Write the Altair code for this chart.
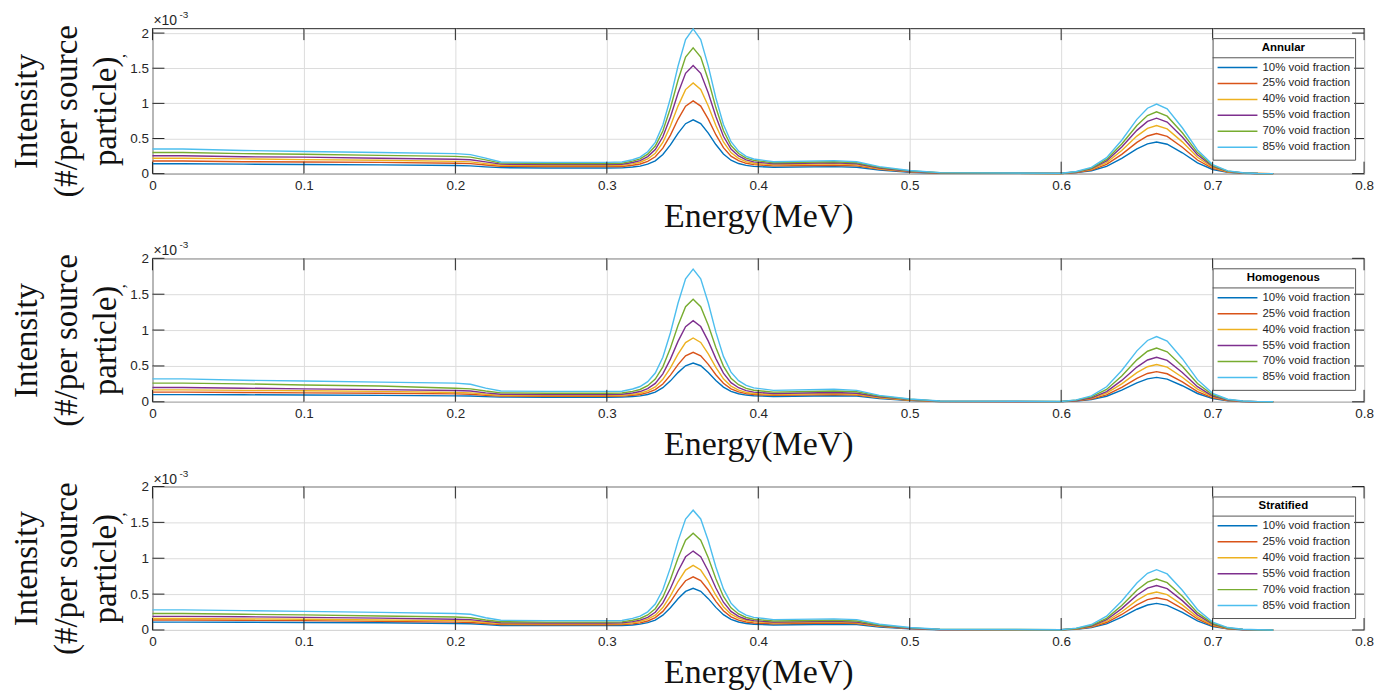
import altair as alt
import pandas as pd

energy = [0, 0.02, 0.06, 0.1, 0.15, 0.2, 0.21, 0.22, 0.23, 0.26, 0.3, 0.31,
          0.317, 0.322, 0.327, 0.332, 0.337, 0.342, 0.347, 0.352, 0.357, 0.362, 0.367,
          0.372, 0.377, 0.382, 0.387, 0.392, 0.397,
          0.41, 0.45, 0.465, 0.48, 0.5, 0.52,
          0.6, 0.61, 0.62, 0.63, 0.64, 0.65, 0.657, 0.663, 0.67, 0.68, 0.69, 0.7,
          0.71, 0.72, 0.73, 0.74]

series_names = ["10% void fraction", "25% void fraction", "40% void fraction",
                "55% void fraction", "70% void fraction", "85% void fraction"]
colors = ["#0072BD", "#D95319", "#EDB120", "#7E2F8E", "#77AC30", "#4DBEEE"]
x_ticks = [0, 0.1, 0.2, 0.3, 0.4, 0.5, 0.6, 0.7, 0.8]
y_ticks = [0, 0.5, 1, 1.5, 2]

# Annular (values in units of 1e-3)
annular_10 = [0.14, 0.14, 0.135, 0.13, 0.125, 0.115, 0.11, 0.097, 0.085, 0.08, 0.08, 0.082,
              0.094, 0.107, 0.135, 0.183, 0.272, 0.409, 0.574, 0.711, 0.766, 0.712, 0.577, 0.414, 0.279, 0.191, 0.144, 0.117, 0.104,
              0.09, 0.10, 0.09, 0.05, 0.02, 0.005,
              0.002, 0.014, 0.041, 0.104, 0.216, 0.351, 0.423, 0.45, 0.419, 0.297, 0.153, 0.059, 0.018, 0.005, 0.001, 0]
annular_25 = [0.18, 0.18, 0.17, 0.165, 0.16, 0.148, 0.142, 0.122, 0.105, 0.10, 0.10, 0.102,
              0.119, 0.137, 0.175, 0.240, 0.362, 0.549, 0.773, 0.960, 1.035, 0.961, 0.776, 0.554, 0.369, 0.249, 0.184, 0.147, 0.129,
              0.11, 0.12, 0.11, 0.06, 0.025, 0.006,
              0.003, 0.017, 0.051, 0.131, 0.274, 0.445, 0.536, 0.57, 0.530, 0.376, 0.194, 0.074, 0.023, 0.007, 0.002, 0]
annular_40 = [0.22, 0.22, 0.21, 0.20, 0.19, 0.175, 0.168, 0.142, 0.12, 0.115, 0.115, 0.117,
              0.139, 0.162, 0.209, 0.291, 0.444, 0.679, 0.961, 1.196, 1.29, 1.197, 0.964, 0.684, 0.451, 0.300, 0.218, 0.172, 0.148,
              0.125, 0.14, 0.125, 0.07, 0.03, 0.008,
              0.003, 0.021, 0.062, 0.158, 0.329, 0.534, 0.644, 0.685, 0.637, 0.452, 0.233, 0.089, 0.027, 0.008, 0.002, 0]
annular_55 = [0.255, 0.255, 0.24, 0.235, 0.22, 0.205, 0.198, 0.168, 0.135, 0.13, 0.13, 0.133,
              0.158, 0.186, 0.243, 0.342, 0.525, 0.807, 1.145, 1.427, 1.54, 1.428, 1.148, 0.812, 0.532, 0.350, 0.252, 0.196, 0.168,
              0.14, 0.155, 0.14, 0.08, 0.035, 0.01,
              0.004, 0.024, 0.071, 0.182, 0.379, 0.616, 0.743, 0.79, 0.735, 0.521, 0.269, 0.103, 0.032, 0.009, 0.002, 0]
annular_70 = [0.30, 0.30, 0.285, 0.275, 0.26, 0.245, 0.235, 0.195, 0.15, 0.145, 0.145, 0.148,
              0.178, 0.211, 0.277, 0.392, 0.606, 0.935, 1.329, 1.658, 1.79, 1.659, 1.332, 0.940, 0.613, 0.400, 0.286, 0.220, 0.188,
              0.155, 0.17, 0.155, 0.09, 0.04, 0.012,
              0.004, 0.026, 0.079, 0.202, 0.422, 0.686, 0.827, 0.88, 0.818, 0.581, 0.299, 0.114, 0.035, 0.011, 0.003, 0]
annular_85 = [0.35, 0.35, 0.33, 0.315, 0.30, 0.285, 0.27, 0.22, 0.165, 0.16, 0.16, 0.165,
              0.198, 0.236, 0.312, 0.445, 0.692, 1.072, 1.528, 1.908, 2.06, 1.909, 1.531, 1.077, 0.699, 0.454, 0.321, 0.246, 0.208,
              0.17, 0.185, 0.17, 0.10, 0.045, 0.014,
              0.005, 0.030, 0.089, 0.228, 0.475, 0.772, 0.931, 0.99, 0.921, 0.653, 0.337, 0.129, 0.040, 0.012, 0.003, 0]

# Homogenous
homog_10 = [0.10, 0.10, 0.098, 0.095, 0.09, 0.083, 0.08, 0.072, 0.065, 0.064, 0.064, 0.065,
            0.074, 0.083, 0.102, 0.135, 0.197, 0.292, 0.407, 0.502, 0.54, 0.503, 0.410, 0.298, 0.205, 0.145, 0.112, 0.094, 0.084,
            0.075, 0.085, 0.08, 0.045, 0.018, 0.004,
            0.002, 0.010, 0.031, 0.078, 0.163, 0.265, 0.320, 0.34, 0.316, 0.224, 0.116, 0.044, 0.014, 0.004, 0.001, 0]
homog_25 = [0.135, 0.135, 0.13, 0.125, 0.12, 0.11, 0.105, 0.09, 0.08, 0.078, 0.078, 0.08,
            0.090, 0.102, 0.127, 0.170, 0.249, 0.372, 0.519, 0.641, 0.69, 0.642, 0.522, 0.378, 0.258, 0.180, 0.138, 0.114, 0.102,
            0.09, 0.10, 0.095, 0.055, 0.022, 0.005,
            0.002, 0.013, 0.038, 0.097, 0.202, 0.328, 0.395, 0.42, 0.391, 0.277, 0.143, 0.055, 0.017, 0.005, 0.001, 0]
homog_40 = [0.167, 0.167, 0.16, 0.155, 0.145, 0.13, 0.125, 0.105, 0.09, 0.088, 0.088, 0.09,
            0.104, 0.120, 0.152, 0.208, 0.313, 0.473, 0.665, 0.826, 0.89, 0.827, 0.669, 0.479, 0.321, 0.219, 0.163, 0.132, 0.116,
            0.10, 0.115, 0.105, 0.06, 0.025, 0.007,
            0.003, 0.016, 0.047, 0.120, 0.250, 0.406, 0.489, 0.52, 0.484, 0.343, 0.177, 0.068, 0.021, 0.006, 0.002, 0]
homog_55 = [0.20, 0.20, 0.19, 0.18, 0.17, 0.157, 0.15, 0.125, 0.105, 0.102, 0.102, 0.105,
            0.123, 0.143, 0.184, 0.256, 0.390, 0.595, 0.842, 1.048, 1.13, 1.049, 0.846, 0.602, 0.399, 0.267, 0.196, 0.156, 0.135,
            0.115, 0.13, 0.12, 0.07, 0.03, 0.008,
            0.003, 0.019, 0.056, 0.143, 0.298, 0.484, 0.583, 0.62, 0.577, 0.409, 0.211, 0.081, 0.025, 0.007, 0.002, 0]
homog_70 = [0.26, 0.26, 0.25, 0.235, 0.22, 0.19, 0.18, 0.15, 0.125, 0.12, 0.12, 0.123,
            0.146, 0.172, 0.225, 0.317, 0.487, 0.749, 1.063, 1.325, 1.43, 1.326, 1.067, 0.757, 0.498, 0.329, 0.239, 0.187, 0.161,
            0.135, 0.15, 0.14, 0.08, 0.035, 0.01,
            0.004, 0.023, 0.068, 0.173, 0.360, 0.585, 0.705, 0.75, 0.698, 0.495, 0.255, 0.098, 0.030, 0.009, 0.002, 0]
homog_85 = [0.32, 0.32, 0.30, 0.29, 0.275, 0.26, 0.245, 0.19, 0.15, 0.145, 0.145, 0.148,
            0.179, 0.213, 0.281, 0.401, 0.622, 0.963, 1.373, 1.714, 1.85, 1.715, 1.377, 0.971, 0.633, 0.414, 0.295, 0.228, 0.194,
            0.16, 0.175, 0.16, 0.09, 0.04, 0.012,
            0.005, 0.027, 0.082, 0.209, 0.437, 0.710, 0.855, 0.91, 0.846, 0.601, 0.309, 0.118, 0.036, 0.011, 0.003, 0]

# Stratified
strat_10 = [0.11, 0.11, 0.108, 0.105, 0.10, 0.09, 0.087, 0.075, 0.062, 0.06, 0.06, 0.061,
            0.070, 0.081, 0.102, 0.138, 0.206, 0.310, 0.434, 0.538, 0.58, 0.539, 0.437, 0.315, 0.213, 0.147, 0.111, 0.090, 0.080,
            0.07, 0.08, 0.075, 0.04, 0.015, 0.004,
            0.002, 0.011, 0.033, 0.085, 0.178, 0.289, 0.348, 0.37, 0.344, 0.244, 0.126, 0.048, 0.015, 0.004, 0.001, 0]
strat_25 = [0.14, 0.14, 0.135, 0.13, 0.12, 0.11, 0.105, 0.09, 0.075, 0.072, 0.072, 0.074,
            0.085, 0.099, 0.125, 0.172, 0.259, 0.393, 0.553, 0.687, 0.74, 0.688, 0.557, 0.399, 0.268, 0.183, 0.137, 0.111, 0.098,
            0.085, 0.095, 0.09, 0.05, 0.02, 0.005,
            0.002, 0.014, 0.041, 0.104, 0.216, 0.351, 0.423, 0.45, 0.419, 0.297, 0.153, 0.059, 0.018, 0.005, 0.001, 0]
strat_40 = [0.16, 0.16, 0.155, 0.15, 0.14, 0.13, 0.125, 0.105, 0.088, 0.085, 0.085, 0.087,
            0.101, 0.118, 0.150, 0.207, 0.313, 0.476, 0.672, 0.835, 0.90, 0.836, 0.676, 0.484, 0.324, 0.220, 0.164, 0.132, 0.116,
            0.10, 0.11, 0.10, 0.055, 0.022, 0.006,
            0.003, 0.016, 0.048, 0.122, 0.254, 0.413, 0.498, 0.53, 0.493, 0.350, 0.180, 0.069, 0.021, 0.006, 0.002, 0]
strat_55 = [0.19, 0.19, 0.185, 0.175, 0.165, 0.15, 0.145, 0.12, 0.10, 0.097, 0.097, 0.10,
            0.117, 0.137, 0.177, 0.247, 0.378, 0.578, 0.819, 1.020, 1.10, 1.021, 0.823, 0.585, 0.387, 0.259, 0.189, 0.150, 0.130,
            0.11, 0.12, 0.11, 0.06, 0.025, 0.007,
            0.003, 0.019, 0.056, 0.143, 0.298, 0.484, 0.583, 0.62, 0.577, 0.409, 0.211, 0.081, 0.025, 0.007, 0.002, 0]
strat_70 = [0.23, 0.23, 0.22, 0.21, 0.195, 0.18, 0.17, 0.14, 0.115, 0.11, 0.11, 0.113,
            0.135, 0.160, 0.209, 0.296, 0.457, 0.705, 1.003, 1.251, 1.35, 1.252, 1.007, 0.713, 0.468, 0.309, 0.223, 0.174, 0.150,
            0.125, 0.135, 0.125, 0.07, 0.03, 0.009,
            0.004, 0.021, 0.064, 0.163, 0.341, 0.554, 0.667, 0.71, 0.660, 0.469, 0.241, 0.092, 0.028, 0.009, 0.002, 0]
strat_85 = [0.28, 0.28, 0.27, 0.26, 0.245, 0.23, 0.22, 0.17, 0.135, 0.13, 0.13, 0.133,
            0.161, 0.192, 0.253, 0.361, 0.561, 0.869, 1.239, 1.547, 1.67, 1.548, 1.243, 0.877, 0.572, 0.374, 0.267, 0.206, 0.176,
            0.145, 0.155, 0.145, 0.08, 0.035, 0.011,
            0.004, 0.025, 0.076, 0.193, 0.403, 0.655, 0.790, 0.84, 0.781, 0.554, 0.286, 0.109, 0.034, 0.010, 0.003, 0]

W = 1216
INK = "#262626"
SANS = "Liberation Sans"
SERIF = "Liberation Serif"


def long_df(series_lists):
    rows = []
    for name, vals in zip(series_names, series_lists):
        assert len(vals) == len(energy), (name, len(vals))
        for e, v in zip(energy, vals):
            rows.append({"Energy": e, "Intensity": v, "Series": name})
    return pd.DataFrame(rows)


def panel(title, series_lists, ymax, H):
    df = long_df(series_lists)
    xs = alt.Scale(domain=[0, 0.8], nice=False, zero=False)
    ys = alt.Scale(domain=[0, ymax], nice=False, zero=True)

    x_axis = alt.Axis(
        values=x_ticks, format=".1~f", ticks=False, domain=False, grid=True,
        gridColor="#dcdcdc", gridWidth=1, labelFont=SANS, labelFontSize=13.5,
        labelColor=INK, labelPadding=5, labelFlush=False, labelOverlap=False,
        title="Energy(MeV)", titleFont=SERIF, titleFontSize=34,
        titleFontWeight="normal", titleColor="#111111", titleBaseline="alphabetic",
        titleY=53, titleX=W / 2)
    y_axis = alt.Axis(
        values=y_ticks, tickCount=5, format=".1~f", ticks=False, domain=False, grid=True,
        gridColor="#dcdcdc", gridWidth=1, labelFont=SANS, labelFontSize=13.5,
        labelColor=INK, labelPadding=4, labelFlush=False, labelOverlap=False,
        labelSeparation=0,
        title=["Intensity", "(#/per source", "particle)"], titleFont=SERIF,
        titleFontSize=33, titleFontWeight="normal", titleColor="#111111",
        titleLineHeight=39.5, titleBaseline="alphabetic", titleAlign="center",
        titleAngle=270, titleX=-116, titleY=H / 2 + 10)

    lines = alt.Chart(df).mark_line(strokeWidth=1.4).encode(
        x=alt.X("Energy:Q", scale=xs, axis=x_axis),
        y=alt.Y("Intensity:Q", scale=ys, axis=y_axis),
        color=alt.Color("Series:N", scale=alt.Scale(domain=series_names, range=colors),
                        legend=alt.Legend(
                            title=title, orient="none", legendX=W - 152, legendY=10,
                            titleFont=SANS, titleFontSize=11.5, titleFontWeight="bold",
                            titleColor="#000000", titleAnchor="middle", titlePadding=6,
                            labelFont=SANS, labelFontSize=11.5, labelColor=INK,
                            labelOffset=4, labelLimit=300,
                            symbolType="stroke", symbolSize=1600, symbolStrokeWidth=1.5,
                            symbolOpacity=1,
                            clipHeight=16, rowPadding=0, padding=4,
                            strokeColor="#555555")),
    )

    xt = pd.DataFrame({"Energy": x_ticks})
    yt = pd.DataFrame({"Intensity": y_ticks})
    tick_style = dict(color=INK, strokeWidth=1)
    bottom_ticks = alt.Chart(xt).mark_rule(**tick_style).encode(
        x=alt.X("Energy:Q", scale=xs), y=alt.value(H), y2=alt.value(H - 12))
    top_ticks = alt.Chart(xt).mark_rule(**tick_style).encode(
        x=alt.X("Energy:Q", scale=xs), y=alt.value(0), y2=alt.value(12))
    left_ticks = alt.Chart(yt).mark_rule(**tick_style).encode(
        y=alt.Y("Intensity:Q", scale=ys), x=alt.value(0), x2=alt.value(12))
    right_ticks = alt.Chart(yt).mark_rule(**tick_style).encode(
        y=alt.Y("Intensity:Q", scale=ys), x=alt.value(W - 12), x2=alt.value(W))

    one = pd.DataFrame({"k": [0]})
    legend_bg = alt.Chart(one).mark_rect(color="white").encode(
        x=alt.value(W - 152), x2=alt.value(W - 10), y=alt.value(10), y2=alt.value(130))
    legend_sep = alt.Chart(one).mark_rule(color="#555555", strokeWidth=1).encode(
        x=alt.value(W - 152), x2=alt.value(W - 10), y=alt.value(29.7))

    exp_main = alt.Chart(one).mark_text(
        text="×10", font=SANS, fontSize=14, color=INK, align="left",
        baseline="alphabetic").encode(x=alt.value(1), y=alt.value(-3))
    exp_sup = alt.Chart(one).mark_text(
        text="-3", font=SANS, fontSize=10, color=INK, align="left",
        baseline="alphabetic").encode(x=alt.value(27), y=alt.value(-10))
    comma = alt.Chart(one).mark_text(
        text=",", font=SERIF, fontSize=16, color="#111111", angle=270,
        align="center", baseline="alphabetic").encode(x=alt.value(-28), y=alt.value(28))

    return alt.layer(lines, bottom_ticks, top_ticks, left_ticks, right_ticks,
                     legend_bg, legend_sep, exp_main, exp_sup, comma).properties(width=W, height=H)


p1 = panel("Annular", [annular_10, annular_25, annular_40, annular_55, annular_70, annular_85], 2.07, 146)
p2 = panel("Homogenous", [homog_10, homog_25, homog_40, homog_55, homog_70, homog_85], 2.0, 144)
p3 = panel("Stratified", [strat_10, strat_25, strat_40, strat_55, strat_70, strat_85], 2.0, 144)

chart = alt.vconcat(p1, p2, p3, spacing=85, bounds="flush").resolve_scale(
    color="independent", x="independent", y="independent"
).configure_view(stroke=INK, strokeWidth=1).configure_axis(
    labelOverlap=False
).properties(
    padding={"left": 2, "top": 0, "right": 5, "bottom": 0})

chart.save("out.html", embed_options={"renderer": "svg", "actions": False})
